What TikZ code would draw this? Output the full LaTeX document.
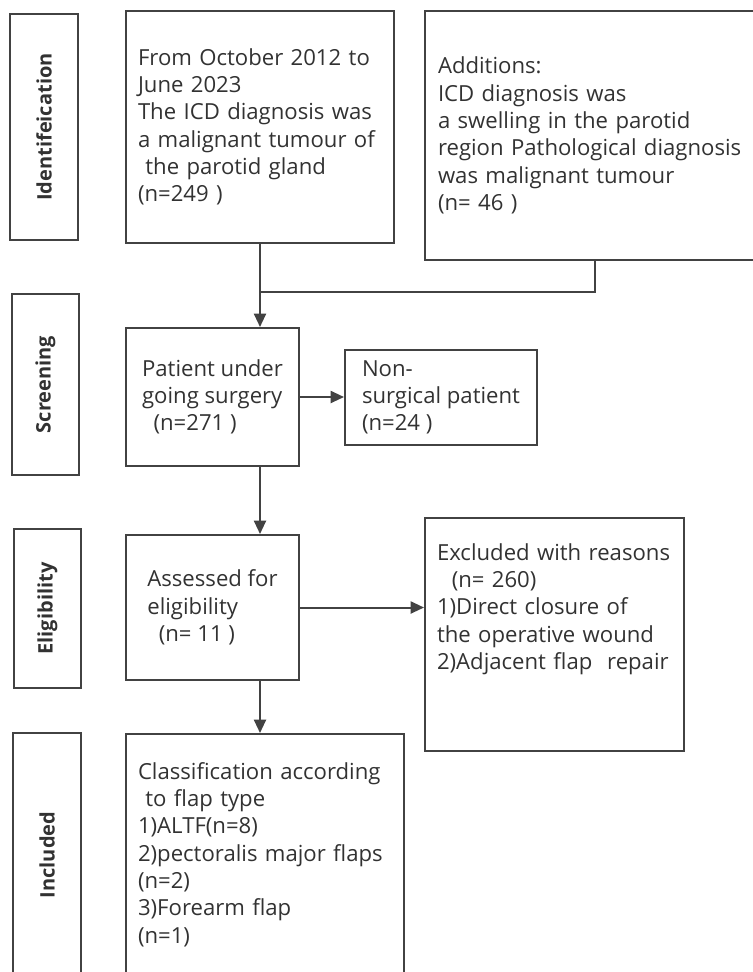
\documentclass[tikz,border=0pt]{standalone}
\usepackage{fontspec}
\setmainfont{Open Sans}
\usetikzlibrary{arrows.meta}
\definecolor{linegray}{RGB}{66,66,66}
\definecolor{textgray}{RGB}{50,50,50}
\tikzset{
    box/.style={draw=linegray, line width=1.5pt, text=textgray, anchor=north west,
        align=left, inner xsep=9pt, font=\fontsize{16.6}{20.5}\selectfont},
    stagebox/.style={draw=linegray, line width=1.5pt, text=textgray, rotate=90,
        minimum height=50.5pt, font=\fontsize{15}{18}\selectfont\bfseries},
    link/.style={draw=linegray, line width=1.5pt},
    arr/.style={link, -{Triangle[length=10pt,width=9pt]}}
}
\begin{document}
\begin{tikzpicture}[x=0.75pt,y=-0.75pt]
\useasboundingbox (0,0) rectangle (753,972);
\foreach \nm/\cx/\cy/\len/\lab in {idf/44/127/169.5pt/Identifeication,
    scr/45.5/384.5/135.75pt/Screening, eli/47.5/608.5/119.25pt/Eligibility,
    inc/47/855/183pt/Included}{
    \node[stagebox, minimum width=\len] (lab-\nm) at (\cx,\cy) {\lab};
}
\node[box, text width=183pt, minimum height=174pt] (src) at (125,10)
    {From October 2012 to\\June 2023\\The ICD diagnosis was\\a malignant tumour of\\\ the parotid gland\\(n=249 )};
\node[box, inner xsep=9.75pt, text width=235.5pt, minimum height=186.75pt] (add) at (424,10)
    {Additions:\\ICD diagnosis was\\a swelling in the parotid\\region Pathological diagnosis\\was malignant tumour\\(n= 46 )};
\node[box, minimum width=129.75pt, minimum height=103.5pt] (surg) at (125,327)
    {Patient under\\going surgery\\\ \ (n=271 )};
\node[box, minimum width=144pt, minimum height=71.25pt] (nonsurg) at (344,349)
    {Non-\\surgical patient\\(n=24 )};
\node[box, minimum width=129.75pt, minimum height=108.75pt] (assess) at (125,534)
    {Assessed for\\eligibility\\\ \ (n= 11 )};
\node[box, text width=176.25pt, inner ysep=20.5pt, text height=11pt, text depth=122.75pt] (excl) at (424,517)
    {Excluded with reasons\\\ \ (n= 260)\\1)Direct closure of\\the operative wound\\2)Adjacent flap\ \ repair};
\node[box, text width=190.5pt, inner ysep=22.75pt, text height=11pt, text depth=160pt] (incl) at (125,733)
    {Classification according\\\ to flap type\\1)ALTF(n=8)\\2)pectoralis major flaps\\(n=2)\\3)Forearm flap\\(n=1)};
\coordinate (join) at (src.south |- 0,292);
\draw[arr] (src.south) -- (src.south |- surg.north);
\draw[link] (add.south) |- (join);
\draw[arr] (surg.east) -- (surg.east -| nonsurg.west);
\draw[arr] (surg.south -| src.south) -- (assess.north -| src.south);
\draw[arr] (assess.east) -- (assess.east -| excl.west);
\draw[arr] (assess.south -| src.south) -- (incl.north -| src.south);
\end{tikzpicture}
\end{document}
